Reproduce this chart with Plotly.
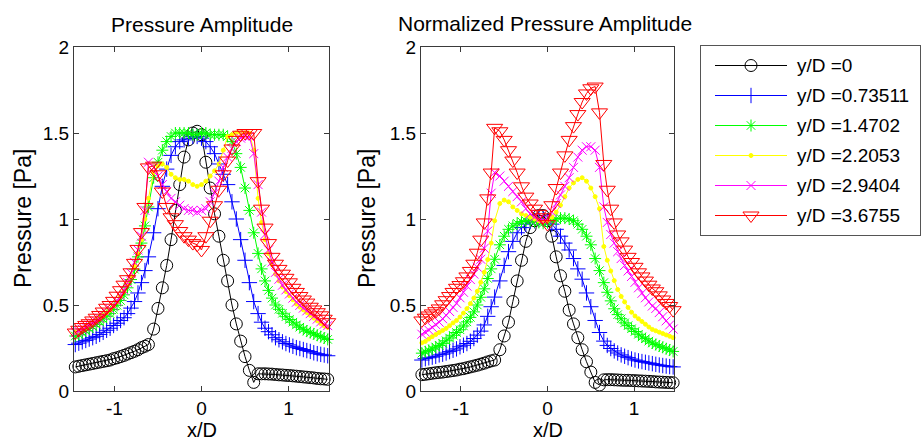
import plotly.graph_objects as go

# ---------------- data ----------------
# x/D sample positions (finer grid in the outer zones, as in the source mesh)
XD = [-1.45, -1.41, -1.37, -1.33, -1.29, -1.25, -1.21, -1.17, -1.13, -1.09, -1.05,
      -1.01, -0.97, -0.93, -0.89, -0.85, -0.81, -0.77, -0.73, -0.69, -0.65, -0.61,
      -0.55, -0.50, -0.45, -0.40, -0.35, -0.30, -0.25, -0.20, -0.15, -0.10, -0.05, 0.00,
      0.05, 0.10, 0.15, 0.20, 0.25, 0.30, 0.35, 0.40, 0.45, 0.50, 0.55, 0.60,
      0.65, 0.69, 0.73, 0.77, 0.81, 0.85, 0.89, 0.93, 0.97, 1.01, 1.05,
      1.09, 1.13, 1.17, 1.21, 1.25, 1.29, 1.33, 1.37, 1.41, 1.45]

SERIES_NAMES = ["y/D =0", "y/D =0.73511", "y/D =1.4702",
                "y/D =2.2053", "y/D =2.9404", "y/D =3.6755"]

# Pressure Amplitude (left panel)
amp_0 = [0.14, 0.144, 0.148, 0.152, 0.156, 0.16, 0.164, 0.168, 0.172, 0.176, 0.18,
         0.188, 0.193, 0.2, 0.207, 0.215, 0.223, 0.231, 0.24, 0.252, 0.26, 0.27,
         0.36, 0.48, 0.6, 0.73, 0.88, 1.05, 1.2, 1.36, 1.46, 1.5, 1.51, 1.49,
         1.33, 1.18, 1.03, 0.9, 0.76, 0.64, 0.5, 0.39, 0.29, 0.2, 0.12, 0.05,
         0.1, 0.1, 0.1, 0.099, 0.098, 0.096, 0.094, 0.093, 0.091, 0.09, 0.088,
         0.086, 0.084, 0.082, 0.08, 0.078, 0.076, 0.073, 0.071, 0.07, 0.068]
amp_1 = [0.27, 0.278, 0.286, 0.294, 0.302, 0.31, 0.318, 0.329, 0.341, 0.353, 0.365,
         0.381, 0.394, 0.41, 0.426, 0.45, 0.482, 0.52, 0.57, 0.63, 0.7, 0.78,
         0.92, 1.06, 1.19, 1.29, 1.37, 1.42, 1.45, 1.46, 1.47, 1.48, 1.48, 1.47,
         1.45, 1.42, 1.38, 1.32, 1.26, 1.2, 1.1, 1.0, 0.88, 0.76, 0.63, 0.52,
         0.45, 0.4, 0.365, 0.345, 0.327, 0.31, 0.298, 0.286, 0.276, 0.268, 0.26,
         0.252, 0.247, 0.241, 0.235, 0.23, 0.222, 0.217, 0.213, 0.209, 0.205]
amp_2 = [0.32, 0.328, 0.339, 0.351, 0.363, 0.375, 0.387, 0.402, 0.418, 0.434, 0.45,
         0.474, 0.498, 0.526, 0.559, 0.6, 0.648, 0.708, 0.78, 0.86, 0.96, 1.07,
         1.24, 1.33, 1.4, 1.45, 1.48, 1.5, 1.5, 1.5, 1.5, 1.49, 1.49, 1.5,
         1.5, 1.49, 1.49, 1.49, 1.49, 1.48, 1.45, 1.38, 1.3, 1.18, 1.05, 0.92,
         0.8, 0.71, 0.64, 0.585, 0.54, 0.5, 0.475, 0.452, 0.432, 0.416, 0.4,
         0.384, 0.371, 0.359, 0.348, 0.34, 0.332, 0.324, 0.316, 0.308, 0.3]
amp_3 = [0.34, 0.348, 0.359, 0.371, 0.383, 0.395, 0.407, 0.422, 0.438, 0.454, 0.47,
         0.494, 0.518, 0.55, 0.58, 0.62, 0.668, 0.728, 0.8, 0.88, 1.0, 1.12,
         1.27, 1.31, 1.32, 1.3, 1.26, 1.24, 1.23, 1.23, 1.22, 1.2, 1.19, 1.2,
         1.22, 1.25, 1.28, 1.32, 1.4, 1.48, 1.49, 1.5, 1.5, 1.5, 1.5, 1.4,
         1.12, 0.98, 0.88, 0.8, 0.735, 0.68, 0.64, 0.605, 0.578, 0.554, 0.53,
         0.506, 0.488, 0.472, 0.456, 0.44, 0.424, 0.408, 0.392, 0.378, 0.37]
amp_4 = [0.34, 0.348, 0.359, 0.371, 0.383, 0.395, 0.407, 0.422, 0.438, 0.455, 0.475,
         0.495, 0.521, 0.551, 0.586, 0.63, 0.686, 0.748, 0.82, 0.9, 1.05, 1.33,
         1.3, 1.25, 1.2, 1.16, 1.12, 1.1, 1.08, 1.06, 1.05, 1.05, 1.04, 1.05,
         1.06, 1.1, 1.15, 1.22, 1.3, 1.36, 1.41, 1.45, 1.47, 1.48, 1.48, 1.38,
         1.2, 1.04, 0.91, 0.82, 0.75, 0.69, 0.65, 0.615, 0.588, 0.564, 0.54,
         0.516, 0.498, 0.482, 0.466, 0.45, 0.434, 0.418, 0.402, 0.388, 0.38]
amp_5 = [0.34, 0.356, 0.372, 0.384, 0.394, 0.41, 0.426, 0.442, 0.462, 0.484, 0.5,
         0.524, 0.554, 0.586, 0.618, 0.65, 0.69, 0.745, 0.826, 0.924, 1.07, 1.3,
         1.31, 1.26, 1.16, 1.07, 1.01, 0.97, 0.93, 0.9, 0.88, 0.86, 0.85, 0.82,
         0.9, 0.99, 1.08, 1.17, 1.26, 1.34, 1.41, 1.46, 1.49, 1.5, 1.5, 1.5,
         1.22, 1.06, 0.95, 0.86, 0.78, 0.74, 0.71, 0.682, 0.658, 0.632, 0.6,
         0.576, 0.552, 0.532, 0.514, 0.49, 0.474, 0.458, 0.44, 0.42, 0.4]

# Normalized Pressure Amplitude (right panel)
norm_0 = [0.095, 0.097, 0.1, 0.103, 0.106, 0.108, 0.11, 0.113, 0.116, 0.119, 0.122,
          0.127, 0.13, 0.135, 0.14, 0.145, 0.15, 0.156, 0.162, 0.169, 0.175, 0.18,
          0.24, 0.32, 0.4, 0.52, 0.64, 0.76, 0.87, 0.95, 0.99, 1.02, 1.02, 0.99,
          0.9, 0.78, 0.67, 0.58, 0.47, 0.39, 0.31, 0.24, 0.17, 0.11, 0.05, 0.035,
          0.065, 0.066, 0.066, 0.065, 0.064, 0.063, 0.062, 0.062, 0.061, 0.06, 0.059,
          0.058, 0.057, 0.056, 0.055, 0.053, 0.052, 0.051, 0.05, 0.049, 0.048]
norm_1 = [0.18, 0.188, 0.193, 0.197, 0.202, 0.21, 0.214, 0.221, 0.229, 0.237, 0.245,
          0.257, 0.266, 0.276, 0.289, 0.305, 0.325, 0.348, 0.384, 0.434, 0.49, 0.546,
          0.64, 0.73, 0.81, 0.87, 0.92, 0.95, 0.97, 0.985, 0.99, 1.0, 1.0, 0.99,
          0.97, 0.94, 0.9, 0.86, 0.82, 0.77, 0.71, 0.65, 0.57, 0.49, 0.41, 0.34,
          0.29, 0.265, 0.247, 0.233, 0.221, 0.21, 0.202, 0.194, 0.186, 0.18, 0.175,
          0.171, 0.167, 0.163, 0.159, 0.155, 0.151, 0.148, 0.145, 0.142, 0.14]
norm_2 = [0.22, 0.228, 0.236, 0.244, 0.256, 0.265, 0.277, 0.292, 0.308, 0.324, 0.34,
          0.356, 0.378, 0.402, 0.428, 0.46, 0.5, 0.545, 0.594, 0.654, 0.71, 0.766,
          0.85, 0.9, 0.94, 0.96, 0.975, 0.985, 0.99, 0.99, 0.985, 0.98, 0.975, 0.98,
          0.99, 1.0, 1.005, 1.005, 1.0, 0.99, 0.97, 0.94, 0.9, 0.85, 0.77, 0.7,
          0.63, 0.574, 0.524, 0.478, 0.444, 0.42, 0.396, 0.38, 0.362, 0.346, 0.33,
          0.314, 0.304, 0.29, 0.279, 0.27, 0.262, 0.254, 0.246, 0.238, 0.23]
norm_3 = [0.28, 0.288, 0.302, 0.316, 0.328, 0.34, 0.352, 0.364, 0.38, 0.396, 0.41,
          0.43, 0.453, 0.479, 0.508, 0.54, 0.58, 0.632, 0.69, 0.764, 0.86, 0.99,
          1.09, 1.11, 1.1, 1.07, 1.05, 1.03, 1.02, 1.01, 1.0, 0.99, 0.985, 0.99,
          1.01, 1.04, 1.08, 1.13, 1.18, 1.21, 1.23, 1.24, 1.22, 1.18, 1.13, 1.06,
          0.84, 0.76, 0.698, 0.642, 0.59, 0.55, 0.518, 0.486, 0.458, 0.436, 0.42,
          0.404, 0.388, 0.372, 0.358, 0.35, 0.342, 0.334, 0.326, 0.318, 0.31]
norm_4 = [0.33, 0.342, 0.354, 0.37, 0.386, 0.4, 0.42, 0.44, 0.462, 0.486, 0.51,
          0.542, 0.574, 0.61, 0.648, 0.68, 0.72, 0.766, 0.83, 0.93, 1.15, 1.27,
          1.25, 1.22, 1.19, 1.16, 1.13, 1.1, 1.06, 1.03, 1.01, 1.0, 0.995, 1.0,
          1.04, 1.09, 1.14, 1.19, 1.24, 1.3, 1.36, 1.4, 1.42, 1.42, 1.4, 1.3,
          1.07, 0.98, 0.91, 0.86, 0.81, 0.77, 0.73, 0.698, 0.666, 0.632, 0.6,
          0.568, 0.542, 0.518, 0.494, 0.48, 0.456, 0.432, 0.408, 0.384, 0.36]
norm_5 = [0.41, 0.426, 0.439, 0.451, 0.464, 0.48, 0.504, 0.528, 0.552, 0.576, 0.6,
          0.616, 0.638, 0.666, 0.698, 0.74, 0.804, 0.88, 0.98, 1.12, 1.27, 1.53,
          1.51, 1.46, 1.4, 1.34, 1.27, 1.19, 1.13, 1.09, 1.06, 1.03, 1.01, 0.97,
          1.08, 1.18, 1.27, 1.37, 1.46, 1.54, 1.61, 1.68, 1.73, 1.76, 1.77, 1.62,
          1.32, 1.17, 1.06, 0.98, 0.91, 0.87, 0.822, 0.78, 0.75, 0.722, 0.69,
          0.666, 0.642, 0.618, 0.596, 0.58, 0.556, 0.532, 0.512, 0.494, 0.47]

AMP = [amp_0, amp_1, amp_2, amp_3, amp_4, amp_5]
NORM = [norm_0, norm_1, norm_2, norm_3, norm_4, norm_5]

Y_TICKS = [0, 0.5, 1, 1.5, 2]
Y_TICK_TEXT = ["0", "0.5", "1", "1.5", "2"]
X_TICKS = [-1, 0, 1]
X_TICK_TEXT = ["-1", "0", "1"]

# ---------------- styles ----------------
COLORS = ["#000000", "#0000FF", "#00FF00", "#FFFF00", "#FF00FF", "#FF0000"]
SYMBOLS = ["circle-open", "cross-thin-open", "asterisk-open",
           "circle", "x-thin-open", "triangle-down-open"]
SIZES = [12, 11, 10, 4, 9, 14]

W, H = 922, 444
FONT = "Liberation Sans, Arial, sans-serif"
AXC = "#3a3a3a"


def px_x(p):
    return p / W


def px_y(p):
    return 1 - p / H


fig = go.Figure()

for i in range(6):
    for vals, xa, ya in ((AMP[i], "x", "y"), (NORM[i], "x2", "y2")):
        fig.add_trace(go.Scatter(
            x=XD, y=vals, xaxis=xa, yaxis=ya, mode="lines+markers",
            name=SERIES_NAMES[i], showlegend=False, cliponaxis=False,
            line=dict(color=COLORS[i], width=1),
            marker=dict(symbol=SYMBOLS[i], size=SIZES[i], color=COLORS[i],
                        line=dict(color=COLORS[i], width=1)),
        ))

# custom legend (MATLAB style long line samples) on an auxiliary axis
LEG_W, LEG_H = 219, 189
for i in range(6):
    row = 19.5 + 30 * i
    fig.add_trace(go.Scatter(x=[14, 86], y=[row, row], xaxis="x3", yaxis="y3",
                             mode="lines", showlegend=False, hoverinfo="skip",
                             line=dict(color=COLORS[i], width=1)))
    fig.add_trace(go.Scatter(x=[50], y=[row], xaxis="x3", yaxis="y3",
                             mode="markers", showlegend=False, hoverinfo="skip",
                             marker=dict(symbol=SYMBOLS[i], size=SIZES[i], color=COLORS[i],
                                         line=dict(color=COLORS[i], width=1))))
    fig.add_annotation(x=94, y=row, xref="x3", yref="y3", text=SERIES_NAMES[i],
                       showarrow=False, xanchor="left", yanchor="middle",
                       font=dict(family=FONT, size=19, color="black"))

common_axis = dict(showgrid=False, zeroline=False, showline=True, mirror="ticks",
                   linecolor=AXC, linewidth=1, ticks="inside", ticklen=5,
                   tickcolor=AXC, tickwidth=1, automargin=False,
                   tickfont=dict(family=FONT, size=19, color="black"))
legend_axis = dict(showgrid=False, zeroline=False, showticklabels=False, ticks="",
                   showline=True, mirror=True, linecolor="#555555", linewidth=1,
                   fixedrange=True, automargin=False)

fig.update_layout(
    template="none",
    width=W, height=H, margin=dict(l=0, r=0, t=0, b=0, pad=0, autoexpand=False),
    paper_bgcolor="white", plot_bgcolor="white", showlegend=False,
    xaxis=dict(domain=[px_x(74), px_x(329)], range=[-1.465, 1.465], anchor="y",
               tickvals=X_TICKS, ticktext=X_TICK_TEXT, **common_axis),
    yaxis=dict(domain=[px_y(391), px_y(47)], range=[0, 2], anchor="x",
               tickvals=Y_TICKS, ticktext=Y_TICK_TEXT, **common_axis),
    xaxis2=dict(domain=[px_x(421), px_x(674)], range=[-1.46, 1.46], anchor="y2",
                tickvals=X_TICKS, ticktext=X_TICK_TEXT, **common_axis),
    yaxis2=dict(domain=[px_y(391), px_y(47)], range=[0, 2], anchor="x2",
                tickvals=Y_TICKS, ticktext=Y_TICK_TEXT, **common_axis),
    xaxis3=dict(domain=[px_x(701), px_x(920)], range=[0, LEG_W], anchor="y3",
                **legend_axis),
    yaxis3=dict(domain=[px_y(235), px_y(46)], range=[LEG_H, 0], anchor="x3",
                **legend_axis),
)

# titles and axis labels
text_items = [
    ("Pressure Amplitude", 201.5, 25, 0, 21),
    ("Normalized Pressure Amplitude", 545, 23, 0, 21),
    ("Pressure [Pa]", 23, 219, -90, 23),
    ("Pressure [Pa]", 367, 219, -90, 23),
    ("x/D", 201.5, 430, 0, 20),
    ("x/D", 548, 430, 0, 20),
]
for txt, cx, cy, ang, fs in text_items:
    fig.add_annotation(x=px_x(cx), y=px_y(cy), xref="paper", yref="paper",
                       text=txt, showarrow=False, textangle=ang,
                       xanchor="center", yanchor="middle",
                       font=dict(family=FONT, size=fs, color="black"))

fig.write_html("out.html")
